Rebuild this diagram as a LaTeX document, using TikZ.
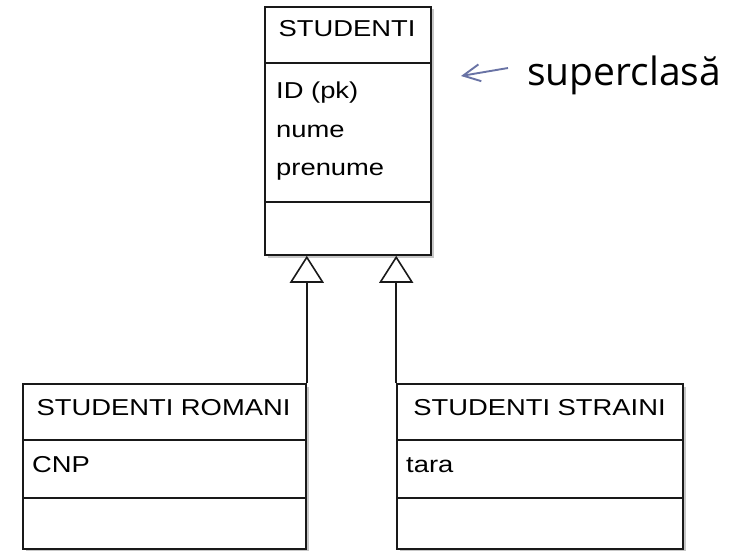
\documentclass[tikz,border=0pt]{standalone}
\usepackage{fontspec}
\setmainfont{Liberation Sans}
\newfontfamily\labelfont{Open Sans}
\usetikzlibrary{arrows.meta,shadows}
\newcommand{\umltxt}[1]{\scalebox{1.19}[1]{#1}}
\begin{document}
\begin{tikzpicture}[x=1pt,y=-1pt,
  umlbox/.style={draw=black!90, line width=1.6pt, fill=white, inner sep=0pt,
    drop shadow={shadow xshift=2.5pt, shadow yshift=-2.5pt, fill=black!22, opacity=1}},
  sepline/.style={draw=black!90, line width=1.6pt},
  umlfont/.style={font=\fontsize{23}{28}\selectfont, inner sep=0pt},
  hdr/.style={umlfont, anchor=base},
  attr/.style={umlfont, anchor=base west},
  gen/.style={draw=black!90, line width=1.6pt, -{Triangle[open, length=27pt, width=34pt]}},
  noteline/.style={draw=color1, line width=1.9pt, -{Straight Barb[length=17pt, width=17pt]}},
]
\definecolor{color1}{RGB}{105,115,165}
\useasboundingbox (0,0) rectangle (736,551);

% boxes
\node[umlbox, minimum width=166pt, minimum height=248pt] (stud) at (348,131) {};
\node[umlbox, minimum width=283pt, minimum height=165pt] (rom) at (164.5,466.5) {};
\node[umlbox, minimum width=286pt, minimum height=165pt] (str) at (540,466.5) {};

% separators
\draw[sepline] (stud.west |- 0,63) -- (stud.east |- 0,63);
\draw[sepline] (stud.west |- 0,202) -- (stud.east |- 0,202);
\draw[sepline] (rom.west |- 0,440) -- (rom.east |- 0,440);
\draw[sepline] (rom.west |- 0,498) -- (rom.east |- 0,498);
\draw[sepline] (str.west |- 0,440) -- (str.east |- 0,440);
\draw[sepline] (str.west |- 0,498) -- (str.east |- 0,498);

% texts
\node[hdr] (studT) at (347,37) {\umltxt{STUDENTI}};
\node[attr] (a1) at (276,98) {\umltxt{ID (pk)}};
\node[attr] (a2) at (276,137) {\umltxt{nume}};
\node[attr] (a3) at (276,175) {\umltxt{prenume}};

\node[hdr] (romT) at (163.5,415) {\umltxt{STUDENTI ROMANI}};
\node[attr] (b1) at (32,472) {\umltxt{CNP}};

\node[hdr] (strT) at (539.5,415) {\umltxt{STUDENTI STRAINI}};
\node[attr] (c1) at (406,472) {\umltxt{tara}};

% generalization connectors
\draw[gen] (rom.north east) -- (rom.north east |- stud.south);
\draw[gen] (str.north west) -- (str.north west |- stud.south);

% note
\node[anchor=base west, inner sep=0pt, font=\labelfont\fontsize{39}{44}\selectfont] (sup) at (527,85) {superclasă};
\coordinate (nfrom) at (508,68);
\coordinate (nto) at (461,76);
\draw[noteline] (nfrom) -- (nto);
\end{tikzpicture}
\end{document}
